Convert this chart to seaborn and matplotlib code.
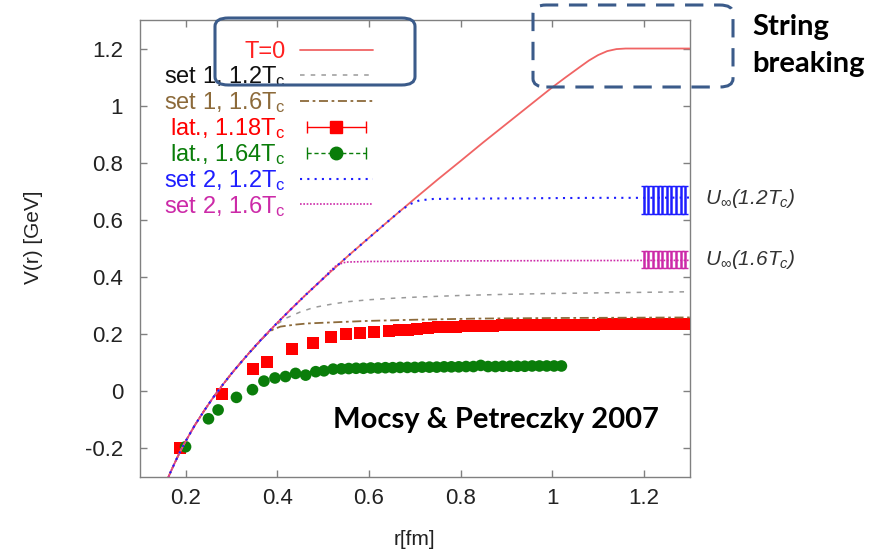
import numpy as np
import pandas as pd
import seaborn as sns
import matplotlib
matplotlib.use("Agg")
import matplotlib.pyplot as plt
from matplotlib.lines import Line2D
from matplotlib.patches import FancyBboxPatch
from matplotlib.legend_handler import HandlerLine2D, HandlerTuple

# ---- data ----
# T=0 potential
t0_r = [0.16, 0.165, 0.17, 0.18, 0.19, 0.20, 0.22, 0.24, 0.26, 0.28, 0.30, 0.32, 0.34, 0.36,
        0.38, 0.40, 0.43, 0.46, 0.50, 0.55, 0.60, 0.65, 0.70, 0.75, 0.80, 0.85, 0.90, 0.95,
        1.00, 1.03, 1.06, 1.08, 1.10, 1.12, 1.14, 1.16, 1.20, 1.25, 1.30]
t0_v = [-0.311, -0.292, -0.274, -0.239, -0.206, -0.176, -0.120, -0.070, -0.023, 0.020, 0.061,
        0.099, 0.136, 0.172, 0.206, 0.239, 0.287, 0.334, 0.394, 0.467, 0.537, 0.606, 0.674,
        0.741, 0.806, 0.872, 0.936, 1.000, 1.064, 1.100, 1.135, 1.158, 1.177, 1.191, 1.198,
        1.200, 1.200, 1.200, 1.200]

# set 1, 1.2Tc (grey dashed)
s1a_r = [0.16, 0.165, 0.17, 0.18, 0.19, 0.20, 0.22, 0.24, 0.26, 0.28, 0.30, 0.32, 0.34, 0.36,
         0.38, 0.40, 0.42, 0.45, 0.48, 0.52, 0.553, 0.60, 0.65, 0.70, 0.80, 0.90, 1.00, 1.10,
         1.20, 1.30]
s1a_v = [-0.311, -0.292, -0.274, -0.239, -0.206, -0.176, -0.120, -0.070, -0.023, 0.020, 0.061,
         0.099, 0.136, 0.172, 0.205, 0.235, 0.256, 0.277, 0.293, 0.305, 0.313, 0.320, 0.325,
         0.329, 0.335, 0.339, 0.342, 0.344, 0.346, 0.348]

# set 1, 1.6Tc (brown dash-dot)
s1b_r = [0.16, 0.165, 0.17, 0.18, 0.19, 0.20, 0.22, 0.24, 0.26, 0.28, 0.30, 0.32, 0.34, 0.36,
         0.375, 0.39, 0.407, 0.44, 0.466, 0.538, 0.60, 0.70, 0.837, 1.00, 1.15, 1.30]
s1b_v = [-0.311, -0.292, -0.274, -0.239, -0.206, -0.176, -0.120, -0.070, -0.023, 0.020, 0.061,
         0.099, 0.136, 0.170, 0.197, 0.215, 0.226, 0.233, 0.237, 0.242, 0.246, 0.250, 0.254,
         0.256, 0.257, 0.258]

# set 2, 1.2Tc (blue dotted)
s2a_r = [0.16, 0.165, 0.17, 0.18, 0.19, 0.20, 0.22, 0.24, 0.26, 0.28, 0.30, 0.32, 0.34, 0.36,
         0.38, 0.40, 0.43, 0.46, 0.50, 0.55, 0.60, 0.65, 0.67, 0.69, 0.71, 0.74, 0.80, 0.90,
         1.00, 1.10, 1.20, 1.30]
s2a_v = [-0.311, -0.292, -0.274, -0.239, -0.206, -0.176, -0.120, -0.070, -0.023, 0.020, 0.061,
         0.099, 0.136, 0.172, 0.206, 0.239, 0.287, 0.334, 0.394, 0.467, 0.537, 0.606, 0.633,
         0.655, 0.668, 0.673, 0.674, 0.675, 0.676, 0.677, 0.677, 0.678]

# set 2, 1.6Tc (magenta dotted)
s2b_r = [0.16, 0.165, 0.17, 0.18, 0.19, 0.20, 0.22, 0.24, 0.26, 0.28, 0.30, 0.32, 0.34, 0.36,
         0.38, 0.40, 0.43, 0.46, 0.50, 0.515, 0.53, 0.55, 0.60, 0.80, 1.00, 1.30]
s2b_v = [-0.311, -0.292, -0.274, -0.239, -0.206, -0.176, -0.120, -0.070, -0.023, 0.020, 0.061,
         0.099, 0.136, 0.172, 0.206, 0.239, 0.287, 0.334, 0.394, 0.420, 0.442, 0.452, 0.454,
         0.456, 0.457, 0.458]

# lattice 1.18Tc (red squares)
lat118_r = [0.187, 0.279, 0.348, 0.377, 0.433, 0.478, 0.517, 0.549, 0.580, 0.611, 0.643, 0.665,
            0.685, 0.705, 0.728, 0.75, 0.77, 0.79, 0.81, 0.83, 0.85, 0.87, 0.89, 0.91, 0.93,
            0.95, 0.97, 0.99, 1.01, 1.03, 1.05, 1.07, 1.09, 1.11, 1.13, 1.15, 1.17, 1.19,
            1.21, 1.23, 1.25, 1.27, 1.29]
lat118_v = [-0.199, -0.009, 0.077, 0.103, 0.148, 0.167, 0.190, 0.199, 0.205, 0.208, 0.210, 0.213,
            0.215, 0.217, 0.222, 0.224, 0.225, 0.226, 0.227, 0.228, 0.229, 0.229, 0.230, 0.230,
            0.231, 0.231, 0.232, 0.232, 0.232, 0.233, 0.233, 0.233, 0.233, 0.234, 0.234, 0.234,
            0.234, 0.234, 0.235, 0.235, 0.235, 0.235, 0.235]

# lattice 1.64Tc (green circles)
lat164_r = [0.200, 0.250, 0.271, 0.311, 0.346, 0.371, 0.395, 0.418, 0.440, 0.462, 0.484, 0.502,
            0.522, 0.54, 0.556, 0.572, 0.588, 0.604, 0.62, 0.636, 0.652, 0.668, 0.684, 0.70,
            0.716, 0.732, 0.748, 0.764, 0.78, 0.796, 0.812, 0.828, 0.844, 0.86, 0.876, 0.892,
            0.908, 0.924, 0.94, 0.956, 0.972, 0.988, 1.004, 1.02]
lat164_v = [-0.195, -0.097, -0.066, -0.022, 0.005, 0.035, 0.046, 0.051, 0.062, 0.056, 0.068, 0.071,
            0.077, 0.078, 0.079, 0.080, 0.080, 0.081, 0.081, 0.082, 0.082, 0.083, 0.083, 0.083,
            0.084, 0.084, 0.084, 0.085, 0.085, 0.085, 0.086, 0.086, 0.090, 0.086, 0.086, 0.087,
            0.087, 0.087, 0.087, 0.088, 0.088, 0.088, 0.088, 0.088]

# asymptotic values U_inf with error bars
uinf_r = [1.20, 1.21, 1.22, 1.23, 1.24, 1.25, 1.26, 1.27, 1.28, 1.29]
u12_v = [0.670] * 10
u12_err = [0.050] * 10
u16_v = [0.462] * 10
u16_err = [0.030] * 10

labels = ["T=0", "set 1, 1.2T$_{\\rm c}$", "set 1, 1.6T$_{\\rm c}$", "lat., 1.18T$_{\\rm c}$",
          "lat., 1.64T$_{\\rm c}$", "set 2, 1.2T$_{\\rm c}$", "set 2, 1.6T$_{\\rm c}$"]

# ---- style ----
sns.set_theme(style="ticks")
plt.rcParams['font.family'] = ['Liberation Sans', 'DejaVu Sans']
plt.rcParams['mathtext.fontset'] = 'custom'
plt.rcParams['mathtext.rm'] = 'Liberation Sans'
plt.rcParams['mathtext.it'] = 'Liberation Sans:italic'

RED_LINE = "#f06464"
GREY = "#9a9a9a"
BROWN = "#8c6a3a"
RED = "#ff0000"
GREEN = "#0a7d0a"
BLUE = "#1e1eff"
MAGENTA = "#cc2aa8"
BOXC = "#3b5b8a"

fig = plt.figure(figsize=(8.9, 5.55), dpi=100)
ax = fig.add_axes([0.157, 0.141, 0.618, 0.823])

sns.scatterplot(x=lat118_r, y=lat118_v, marker="s", s=75, color=RED, edgecolor="none", ax=ax, zorder=3)
sns.scatterplot(x=lat164_r, y=lat164_v, marker="o", s=70, color=GREEN, edgecolor="none", ax=ax, zorder=3)

sns.lineplot(x=s1a_r, y=s1a_v, color=GREY, lw=1.1, linestyle=(0, (3, 4)), sort=False, ax=ax, zorder=4)
sns.lineplot(x=s1b_r, y=s1b_v, color=BROWN, lw=1.3, linestyle=(0, (5, 2, 1.5, 2)), sort=False, ax=ax, zorder=4)
sns.lineplot(x=t0_r, y=t0_v, color=RED_LINE, lw=1.3, sort=False, ax=ax, zorder=4)
sns.lineplot(x=s2b_r, y=s2b_v, color=MAGENTA, lw=1.2, linestyle=(0, (1, 1)), sort=False, ax=ax, zorder=5)
sns.lineplot(x=s2a_r, y=s2a_v, color=BLUE, lw=1.5, linestyle=(0, (1, 2.5)), sort=False, ax=ax, zorder=5)

ax.errorbar(uinf_r, u12_v, yerr=u12_err, fmt="none", ecolor=BLUE, elinewidth=1.8, capsize=2, zorder=5)
ax.errorbar(uinf_r, u16_v, yerr=u16_err, fmt="none", ecolor=MAGENTA, elinewidth=1.8, capsize=2, zorder=5)

ax.set_xlim(0.1, 1.3)
ax.set_ylim(-0.3, 1.3)
ax.set_xticks([0.2, 0.4, 0.6, 0.8, 1.0, 1.2])
ax.set_xticklabels(["0.2", "0.4", "0.6", "0.8", "1", "1.2"])
ax.set_yticks([-0.2, 0, 0.2, 0.4, 0.6, 0.8, 1.0, 1.2])
ax.set_yticklabels(["-0.2", "0", "0.2", "0.4", "0.6", "0.8", "1", "1.2"])
ax.tick_params(direction="in", top=True, right=True, length=5, width=1, color="#808080",
               labelsize=16, labelcolor="#222222")
ax.tick_params(axis="x", pad=8)
ax.tick_params(axis="y", pad=12)
for sp in ax.spines.values():
    sp.set_color("#808080")
    sp.set_linewidth(1)
ax.set_xlabel("r[fm]", fontsize=15, color="#222222", labelpad=15)
ax.set_ylabel("V(r) [GeV]", fontsize=15, color="#222222")
ax.yaxis.set_label_coords(-0.175, 0.525)

# ---- legend ----
h_t0 = Line2D([], [], color=RED_LINE, lw=1.3)
h_s1a = Line2D([], [], color=GREY, lw=1.1, linestyle=(0, (3, 4)))
h_s1b = Line2D([], [], color=BROWN, lw=1.3, linestyle=(0, (5, 2, 1.5, 2)))
cap_r = Line2D([], [], color=RED, lw=1, marker="|", ms=9)
pt_r = Line2D([], [], color=RED, ls="none", marker="s", ms=9)
cap_g = Line2D([], [], color=GREEN, lw=1, ls=(0, (3, 2)), marker="|", ms=9)
pt_g = Line2D([], [], color=GREEN, ls="none", marker="o", ms=9)
h_s2a = Line2D([], [], color=BLUE, lw=1.5, linestyle=(0, (1, 2.5)))
h_s2b = Line2D([], [], color=MAGENTA, lw=1.2, linestyle=(0, (1, 1)))

handles = [h_t0, h_s1a, h_s1b, (cap_r, pt_r), (cap_g, pt_g), h_s2a, h_s2b]
hmap = {cap_r: HandlerLine2D(numpoints=2), cap_g: HandlerLine2D(numpoints=2),
        pt_r: HandlerLine2D(numpoints=1), pt_g: HandlerLine2D(numpoints=1),
        tuple: HandlerTuple(ndivide=1)}
# markerfirst=False puts text on the left and right-aligns the rows
leg = ax.legend(handles, labels, handler_map=hmap, loc="upper right",
                bbox_to_anchor=(0.424, 0.953), frameon=False, markerfirst=False,
                fontsize=17, handlelength=3.1, handletextpad=0.6, labelspacing=0.04,
                borderpad=0, borderaxespad=0)
text_colors = ["#ff2020", "#111111", BROWN, RED, GREEN, BLUE, MAGENTA]
for t, c in zip(leg.get_texts(), text_colors):
    t.set_color(c)

# ---- annotations ----
ax.annotate("$U_\\infty$(1.2$T_c$)", xy=(1.333, 0.675), xycoords="data", fontsize=15,
            color="#333333", style="italic", va="center", ha="left", annotation_clip=False)
ax.annotate("$U_\\infty$(1.6$T_c$)", xy=(1.333, 0.462), xycoords="data", fontsize=15,
            color="#333333", style="italic", va="center", ha="left", annotation_clip=False)

fig.text(333 / 890, 1 - 420 / 555, "Mocsy & Petreczky 2007", fontsize=21, fontweight="bold",
         family="Lato", color="black", va="center", ha="left")
fig.text(752 / 890, 1 - 27 / 555, "String", fontsize=21, fontweight="bold",
         family="Lato", color="black", va="center", ha="left")
fig.text(752 / 890, 1 - 64 / 555, "breaking", fontsize=21, fontweight="bold",
         family="Lato", color="black", va="center", ha="left")

W, H = 890, 555
box1 = FancyBboxPatch((215 / W, 1 - 85 / H), 200 / W, 67 / H,
                      boxstyle="round,pad=0,rounding_size=0.015", transform=fig.transFigure,
                      fill=False, ec=BOXC, lw=2.2, zorder=10)
box2 = FancyBboxPatch((533 / W, 1 - 87 / H), 200 / W, 82 / H,
                      boxstyle="round,pad=0,rounding_size=0.015", transform=fig.transFigure,
                      fill=False, ec=BOXC, lw=2.2, ls=(0, (6, 3.5)), zorder=10)
fig.patches.extend([box1, box2])

fig.savefig("out.png", dpi=100)
